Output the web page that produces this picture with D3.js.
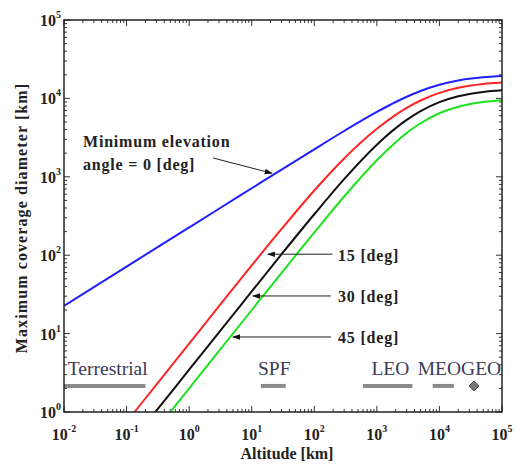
<html>
<head>
<meta http-equiv="Content-Type" content="text/html;charset=utf-8"/>
<script type="text/javascript" src="https://d3js.org/d3.v7.min.js"></script>
<style type="text/css">
  body { margin: 0; background: #fff; }
  text { font-family: "Liberation Serif", "Times New Roman", serif; }
  .tick-label { font-size: 16px; font-weight: bold; fill: #222; }
  .axis-title { font-size: 16px; font-weight: bold; fill: #222; }
  .note { font-size: 16px; font-weight: bold; fill: #222; letter-spacing: 0.8px; }
  .orbit-name { font-size: 19.5px; fill: #3a3a55; }
</style>
</head>
<body>
<div id="chart"></div>
<script type="text/javascript">

// altitude [km] and max coverage diameter [km] per elevation angle
var altitudes = [0.01, 0.03, 0.1, 0.3, 1, 3, 10, 30, 100, 300, 1000, 2000, 3000, 5000, 10000, 20000, 30000, 50000, 100000];
var dia0  = [22.6, 39.1, 71.4, 124, 226, 391, 714, 1237, 2244, 3838, 6715, 9001, 10498, 12445, 14941, 16922, 17789, 18591, 19272];
var dia15 = [0.075, 0.224, 0.746, 2.24, 7.46, 22.4, 74, 216, 669, 1714, 4094, 6160, 7555, 9399, 11779, 13691, 14527, 15301, 15959];
var dia30 = [0.035, 0.104, 0.346, 1.04, 3.46, 10.4, 34.5, 103, 333, 934, 2566, 4175, 5323, 6892, 8971, 10667, 11414, 12106, 12696];
var dia45 = [0.02, 0.06, 0.2, 0.6, 2.0, 6.0, 20, 59.7, 195, 561, 1629, 2768, 3619, 4820, 6460, 7827, 8433, 8997, 9478];

var angles = [0, 15, 30, 45];
var colors = ["#1f1fff", "#ff2424", "#111111", "#1fe21f"];

// orbit ranges [km]
var orbitNames = ["Terrestrial", "SPF", "LEO", "MEO", "GEO"];
var orbitFrom  = [0.01, 14, 600, 7800, 35786];
var orbitTo    = [0.2, 35, 3700, 17000, 35786];

var xExponents = [-2, -1, 0, 1, 2, 3, 4, 5];
var yExponents = [0, 1, 2, 3, 4, 5];

(function() {
var W = 516, H = 469;
var mLeft = 64, mRight = 502, mTop = 20, mBottom = 412;

var x = d3.scaleLog().domain([1e-2, 1e5]).range([mLeft, mRight]);
var y = d3.scaleLog().domain([1, 1e5]).range([mBottom, mTop]);

var svg = d3.select("#chart").append("svg")
    .attr("width", W)
    .attr("height", H);

var defs = svg.append("defs");
defs.append("clipPath").attr("id", "plotclip")
  .append("rect")
    .attr("x", mLeft).attr("y", mTop)
    .attr("width", mRight - mLeft).attr("height", mBottom - mTop);

defs.append("marker")
    .attr("id", "head")
    .attr("viewBox", "0 0 10 10")
    .attr("refX", 9).attr("refY", 5)
    .attr("markerWidth", 8).attr("markerHeight", 8)
    .attr("markerUnits", "userSpaceOnUse")
    .attr("orient", "auto")
  .append("path")
    .attr("d", "M0,1.5 L10,5 L0,8.5 Z")
    .attr("fill", "#111");

// ticks, inward on all four sides
var ticksG = svg.append("g").attr("stroke", "#333").attr("stroke-width", 1);
function tickList(e0, e1) {
  var out = [];
  for (var e = e0; e < e1; e++) {
    for (var k = 1; k <= 9; k++) out.push({v: k * Math.pow(10, e), major: k == 1});
  }
  out.push({v: Math.pow(10, e1), major: true});
  return out;
}
tickList(-2, 5).forEach(function(t) {
  var px = x(t.v), len = t.major ? 6 : 3;
  ticksG.append("line").attr("x1", px).attr("x2", px).attr("y1", mBottom).attr("y2", mBottom - len);
  ticksG.append("line").attr("x1", px).attr("x2", px).attr("y1", mTop).attr("y2", mTop + len);
});
tickList(0, 5).forEach(function(t) {
  var py = y(t.v), len = t.major ? 6 : 3;
  ticksG.append("line").attr("y1", py).attr("y2", py).attr("x1", mLeft).attr("x2", mLeft + len);
  ticksG.append("line").attr("y1", py).attr("y2", py).attr("x1", mRight).attr("x2", mRight - len);
});

// tick labels
xExponents.forEach(function(e) {
  var t = svg.append("text").attr("class", "tick-label")
      .attr("x", x(Math.pow(10, e)))
      .attr("y", 440)
      .attr("text-anchor", "middle");
  t.append("tspan").text("10");
  t.append("tspan").attr("font-size", "10px").attr("dy", -8).text(e);
});
yExponents.forEach(function(e) {
  var t = svg.append("text").attr("class", "tick-label")
      .attr("x", 61)
      .attr("y", y(Math.pow(10, e)) + 6)
      .attr("text-anchor", "end");
  t.append("tspan").text("10");
  t.append("tspan").attr("font-size", "10px").attr("dy", -8).text(e);
});

// curves
var series = [dia0, dia15, dia30, dia45];
var line = d3.line()
    .x(function(d) { return x(d[0]); })
    .y(function(d) { return y(d[1]); })
    .curve(d3.curveMonotoneX);

var curves = svg.append("g").attr("clip-path", "url(#plotclip)");
series.forEach(function(s, i) {
  curves.append("path")
      .datum(altitudes.map(function(a, j) { return [a, s[j]]; }))
      .attr("fill", "none")
      .attr("stroke", colors[i])
      .attr("stroke-width", 2)
      .attr("d", line);
});

// orbit bars
var barY = y(2.15);
orbitNames.forEach(function(n, i) {
  if (orbitFrom[i] == orbitTo[i]) {
    var cx = x(orbitFrom[i]);
    svg.append("path")
        .attr("d", "M" + cx + "," + (barY - 5) + " L" + (cx + 5) + "," + barY + " L" + cx + "," + (barY + 5) + " L" + (cx - 5) + "," + barY + " Z")
        .attr("fill", "#777").attr("stroke", "#444").attr("stroke-width", 1);
  } else {
    svg.append("line")
        .attr("x1", x(orbitFrom[i])).attr("x2", x(orbitTo[i]))
        .attr("y1", barY).attr("y2", barY)
        .attr("stroke", "#8a8a8a").attr("stroke-width", 4);
  }
});
var orbitLabels = [
  {text: "Terrestrial", at: 0.0115},
  {text: "SPF", at: 12.6},
  {text: "LEO", at: 820},
  {text: "MEOGEO", at: 4500}
];
orbitLabels.forEach(function(o) {
  svg.append("text").attr("class", "orbit-name")
      .attr("x", x(o.at)).attr("y", 375)
      .text(o.text);
});

// annotations with arrows
svg.append("text").attr("class", "note").attr("x", 83).attr("y", 147).text("Minimum elevation");
svg.append("text").attr("class", "note").attr("x", 83).attr("y", 170).text("angle = 0 [deg]");

var arrows = [
  {from: [2.4, 1740], to: [21, 1110]},
  {from: [195, 103], to: [18, 103], label: "15 [deg]", ly: 261},
  {from: [184, 30.2], to: [10.4, 30.2], label: "30 [deg]", ly: 302},
  {from: [184, 9.06], to: [5.0, 9.06], label: "45 [deg]", ly: 343}
];
arrows.forEach(function(a) {
  svg.append("line")
      .attr("x1", x(a.from[0])).attr("y1", y(a.from[1]))
      .attr("x2", x(a.to[0])).attr("y2", y(a.to[1]))
      .attr("stroke", "#222").attr("stroke-width", 1)
      .attr("marker-end", "url(#head)");
  if (a.label) {
    svg.append("text").attr("class", "note")
        .attr("x", 338).attr("y", a.ly).text(a.label);
  }
});

// frame
svg.append("rect")
    .attr("x", mLeft).attr("y", mTop)
    .attr("width", mRight - mLeft).attr("height", mBottom - mTop)
    .attr("fill", "none").attr("stroke", "#222").attr("stroke-width", 1.5);

// axis titles
svg.append("text").attr("class", "axis-title")
    .attr("x", (mLeft + mRight) / 2 + 4).attr("y", 459)
    .attr("text-anchor", "middle")
    .text("Altitude [km]");
svg.append("text").attr("class", "axis-title")
    .attr("transform", "translate(27,218) rotate(-90)")
    .attr("text-anchor", "middle")
    .attr("letter-spacing", "1.1px")
    .text("Maximum coverage diameter [km]");
})();

</script>
</body>
</html>
